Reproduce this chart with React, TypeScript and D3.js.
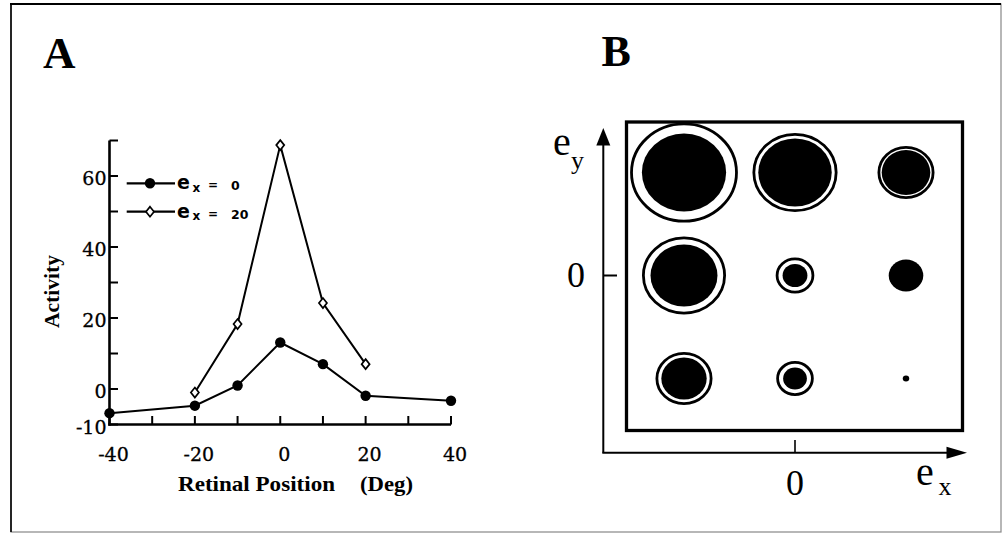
import React from 'react';
import * as d3 from 'd3';

// Panel A: activity vs retinal position for two eye positions
const positionsEx0 = [-40, -20, -10, 0, 10, 20, 40];
const activityEx0 = [-6.8, -4.7, 1.0, 13.1, 7.0, -1.9, -3.3];
const positionsEx20 = [-20, -10, 0, 10, 20];
const activityEx20 = [-1.0, 18.3, 68.7, 24.2, 7.0];
const xTickLabels = [-40, -20, 0, 20, 40];
const xMinorTicks = [-40, -30, -20, -10, 0, 10, 20, 30, 40];
const yTickLabels = [-10, 0, 20, 40, 60];
const yMinorTicks = [-10, 0, 10, 20, 30, 40, 50, 60, 70];
const legendValues = ['0', '20'];

// Panel B: gain field, rows = e_y, columns = e_x
const eyeX = [-20, 0, 20];
const eyeY = [20, 0, -20];
const outerGain = [
  [100, 79, 53],
  [78, 36, 0],
  [53, 35, 0],
];
const innerGain = [
  [78, 68, 45],
  [62, 23, 32],
  [42, 22, 6],
];

const W = 1004;
const H = 534;

const serif = '"Liberation Serif", "Times New Roman", serif';
const tickFont = '"DejaVu Serif", serif';
const sans = '"DejaVu Sans", sans-serif';

const diamond = (cx: number, cy: number) =>
  `M${cx},${cy - 5}L${cx + 4},${cy}L${cx},${cy + 5}L${cx - 4},${cy}Z`;

const PanelA = () => {
  const x = d3.scaleLinear().domain([-40, 40]).range([109.5, 451]);
  const y = d3.scaleLinear().domain([-10, 70]).range([424.5, 140.5]);
  const line = d3
    .line<[number, number]>()
    .x((d) => x(d[0]))
    .y((d) => y(d[1]));
  const s0 = positionsEx0.map((p, i) => [p, activityEx0[i]] as [number, number]);
  const s20 = positionsEx20.map((p, i) => [p, activityEx20[i]] as [number, number]);
  const x0 = x(-40);
  const y0 = y(-10);
  const tickLen = 8.5;

  return (
    <g>
      <text x={43} y={68} fontFamily={serif} fontWeight="bold" fontSize={45}>
        A
      </text>

      {/* axes */}
      <line x1={x0} y1={y(70)} x2={x0} y2={y0 + 1.2} stroke="#000" strokeWidth={2.6} />
      <line x1={x0 - 1.2} y1={y0} x2={x(40)} y2={y0} stroke="#000" strokeWidth={2.6} />
      {yMinorTicks.map((t) => (
        <line key={'yt' + t} x1={x0} x2={x0 + tickLen} y1={y(t)} y2={y(t)} stroke="#000" strokeWidth={2} />
      ))}
      {xMinorTicks.map((t) => (
        <line key={'xt' + t} x1={x(t)} x2={x(t)} y1={y0} y2={y0 - tickLen} stroke="#000" strokeWidth={2} />
      ))}
      {yTickLabels.map((t) => (
        <text
          key={'yl' + t}
          x={x0 - 3}
          y={y(t) + 9}
          textAnchor="end"
          fontFamily={tickFont}
          fontSize={19}
          stroke="#000"
          strokeWidth={0.3}
        >
          {t}
        </text>
      ))}
      {xTickLabels.map((t) => (
        <text
          key={'xl' + t}
          x={x(t) + 4}
          y={460.5}
          textAnchor="middle"
          fontFamily={tickFont}
          fontSize={19}
          stroke="#000"
          strokeWidth={0.3}
        >
          {t}
        </text>
      ))}

      <text
        x={178}
        y={490.5}
        fontFamily={serif}
        fontWeight="bold"
        fontSize={21}
        textLength={157}
        lengthAdjust="spacingAndGlyphs"
      >
        Retinal Position
      </text>
      <text
        x={360}
        y={490.5}
        fontFamily={serif}
        fontWeight="bold"
        fontSize={21}
        textLength={53}
        lengthAdjust="spacingAndGlyphs"
      >
        (Deg)
      </text>
      <text
        transform="translate(59,291.5) rotate(-90)"
        textAnchor="middle"
        fontFamily={serif}
        fontWeight="bold"
        fontSize={20}
        textLength={73}
        lengthAdjust="spacingAndGlyphs"
      >
        Activity
      </text>

      {/* series */}
      <path d={line(s0) ?? ''} fill="none" stroke="#000" strokeWidth={2} />
      <path d={line(s20) ?? ''} fill="none" stroke="#000" strokeWidth={2} />
      {s0.map((d, i) => (
        <circle key={'c' + i} cx={x(d[0])} cy={y(d[1])} r={5.2} fill="#000" />
      ))}
      {s20.map((d, i) => (
        <path key={'d' + i} d={diamond(x(d[0]), y(d[1]))} fill="#fff" stroke="#000" strokeWidth={1.7} />
      ))}

      {/* legend */}
      {legendValues.map((v, i) => {
        const ly = 183.3 + i * 28.4;
        return (
          <g key={'lg' + i}>
            <line x1={126.7} x2={175} y1={ly} y2={ly} stroke="#000" strokeWidth={2.3} />
            {i === 0 ? (
              <circle cx={150} cy={ly} r={5.2} fill="#000" />
            ) : (
              <path d={diamond(150, ly)} fill="#fff" stroke="#000" strokeWidth={1.7} />
            )}
            <text x={177} y={ly + 6} fontFamily={sans} fontWeight="bold" fontSize={19}>
              e
            </text>
            <text x={192.5} y={ly + 8.5} fontFamily={sans} fontWeight="bold" fontSize={12}>
              x
            </text>
            <text x={208} y={ly + 6} fontFamily={sans} fontWeight="bold" fontSize={12}>
              =
            </text>
            <text x={231} y={ly + 7} fontFamily={sans} fontWeight="bold" fontSize={12.5}>
              {v}
            </text>
          </g>
        );
      })}
    </g>
  );
};

const PanelB = () => {
  const bx = d3.scaleLinear().domain([-20, 20]).range([684, 906]);
  const by = d3.scaleLinear().domain([-20, 20]).range([378.5, 172.5]);
  const rScale = d3.scaleLinear().domain([0, 100]).range([0, 50]);
  const stretch = 1.08;
  const axX = 603.3;
  const axY = 452.7;
  const ring = 2.8;

  return (
    <g>
      <text x={601.5} y={65.5} fontFamily={serif} fontWeight="bold" fontSize={44}>
        B
      </text>

      {/* frame of the gain field */}
      <rect x={626.5} y={122} width={336} height={308.5} fill="none" stroke="#000" strokeWidth={3.3} />

      {/* eye position axes */}
      <line x1={axX} y1={axY} x2={axX} y2={140} stroke="#000" strokeWidth={2} />
      <path d={`M${axX},128L${axX + 7},145.5L${axX - 7},145.5Z`} fill="#000" />
      <line x1={axX - 1} y1={axY} x2={952} y2={axY} stroke="#000" strokeWidth={2} />
      <path d={`M967,${axY}L946.5,${axY - 6}L946.5,${axY + 6}Z`} fill="#000" />
      <line x1={axX} x2={617} y1={by(0)} y2={by(0)} stroke="#000" strokeWidth={2} />
      <line x1={bx(0)} x2={bx(0)} y1={axY} y2={440} stroke="#000" strokeWidth={1.6} />

      <text x={585} y={by(0) + 11} textAnchor="end" fontFamily={serif} fontSize={36}>
        0
      </text>
      <text x={bx(0)} y={495} textAnchor="middle" fontFamily={serif} fontSize={36}>
        0
      </text>
      <text x={553} y={155} fontFamily={serif} fontSize={40}>
        e
      </text>
      <text x={571} y={169} fontFamily={serif} fontSize={26}>
        y
      </text>
      <text x={916} y={485} fontFamily={serif} fontSize={40}>
        e
      </text>
      <text x={938.5} y={495} fontFamily={serif} fontSize={26}>
        x
      </text>

      {eyeY.map((ey, r) =>
        eyeX.map((ex, c) => {
          const cx = bx(ex);
          const cy = by(ey);
          const o = outerGain[r][c];
          const inn = rScale(innerGain[r][c]);
          const ro = rScale(o) - ring / 2;
          return (
            <g key={`g${r}-${c}`}>
              {o > 0 && (
                <ellipse cx={cx} cy={cy} rx={ro * stretch} ry={ro} fill="#fff" stroke="#000" strokeWidth={ring} />
              )}
              <ellipse cx={cx} cy={cy} rx={inn * stretch} ry={inn} fill="#000" />
            </g>
          );
        })
      )}
    </g>
  );
};

export default function App() {
  return (
    <svg
      width={W}
      height={H}
      viewBox={`0 0 ${W} ${H}`}
      style={{ position: 'absolute', left: 0, top: 0, background: '#fff' }}
    >
      <rect x={0} y={0} width={W} height={H} fill="#fff" />
      <rect x={11} y={4} width={990} height={528} fill="none" stroke="#888" strokeWidth={1.2} />
      <line x1={10} x2={1001} y1={4} y2={4} stroke="#000" strokeWidth={2} />
      <line x1={11} x2={11} y1={4} y2={532} stroke="#000" strokeWidth={1.6} />
      <PanelA />
      <PanelB />
    </svg>
  );
}
